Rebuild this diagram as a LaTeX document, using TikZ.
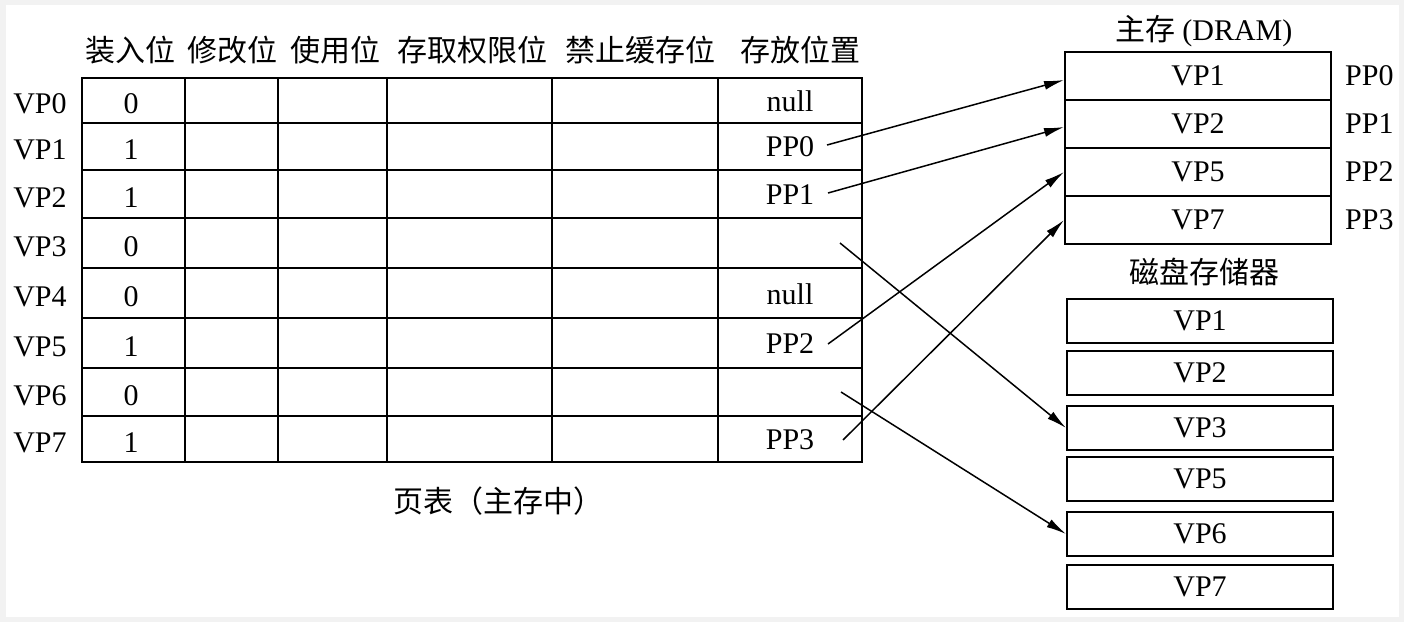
\documentclass[tikz,border=0pt]{standalone}
\usepackage{fontspec}
\setmainfont{Liberation Serif}
\newfontfamily\cjk{Noto Sans CJK SC}
\usepackage{tikz}
\usetikzlibrary{
  arrows.meta,
  positioning
}
\definecolor{pagegray}{RGB}{242,242,242}
\newcommand\bigsz{\fontsize{30}{34}\selectfont}
\tikzset{
  txt/.style={ inner sep=0pt, font=\bigsz },
  hz/.style={ inner sep=0pt, font=\cjk\bigsz },
  grid/.style={ line width=1.9pt, line cap=rect },
  membox/.style={
    draw,
    line width=1.9pt,
    minimum width=266pt,
    minimum height=48pt,
    inner sep=0pt,
    font=\bigsz
  },
  diskbox/.style={
    draw,
    line width=1.9pt,
    minimum width=266pt,
    minimum height=44pt,
    inner sep=0pt,
    font=\bigsz
  },
  link/.style={
    -{Latex[length=20pt,width=9pt]},
    line width=1.5pt
  }
}

\begin{document}
\begin{tikzpicture}[x=1pt,y=-1pt]
\useasboundingbox[fill=pagegray] (0,0) rectangle (1404,622);
\fill[white] (6,5) rectangle (1399,617);

% page table
\foreach \y in {78,123,170,218,268,318,368,416,462}
  \draw[grid] (82,\y) -- (862,\y);
\foreach \x in {82,185,278,387,552,718,862}
  \draw[grid] (\x,78) -- (\x,462);

\foreach \x/\t [count=\c] in {130/装入位,232/修改位,335/使用位,472/存取权限位,640/禁止缓存位,800/存放位置}
  \node[hz] (head\c) at (\x,50) {\t};

\foreach \y/\bit/\loc [count=\i from 0] in {100/0/null,146/1/PP0,194/1/PP1,243/0/,293/0/null,343/1/PP2,392/0/,439/1/PP3} {
  \node[txt] (vp\i) at (40,\y+4) {VP\i};
  \node[txt] (bit\i) at (131,\y+4) {\bit};
  \node[txt] (loc\i) at (790,\y+1) {\loc};
}
\node[hz] (caption) at (498,501) {页表（主存中）};

% main memory
\node[hz] (dramtitle) at (1204,31) {主存 {\rmfamily (DRAM)}};
\foreach \v/\y [count=\k from 0] in {1/76,2/124,5/172,7/220} {
  \node[membox] (m\v) at (1198,\y) {VP\v};
  \node[txt, right=13pt of m\v] (pp\k) {PP\k};
}

% disk
\node[hz] (disktitle) at (1204,272) {磁盘存储器};
\foreach \v/\y in {1/321,2/373,3/428,5/479,6/534,7/587}
  \node[diskbox] (d\v) at (1200,\y) {VP\v};

% mapping
\coordinate (src1) at (827,145);
\coordinate (src2) at (828,193);
\coordinate (src3) at (840,243);
\coordinate (src5) at (828,344);
\coordinate (src6) at (841,392);
\coordinate (src7) at (843,440);
\draw[link] (src1) -- ([yshift=-4pt]m1.west);
\draw[link] (src2) -- ([yshift=-3pt]m2.west);
\draw[link] (src5) -- (m5.west);
\draw[link] (src7) -- (m7.west);
\draw[link] (src3) -- (d3.west);
\draw[link] (src6) -- (d6.west);
\end{tikzpicture}
\end{document}
